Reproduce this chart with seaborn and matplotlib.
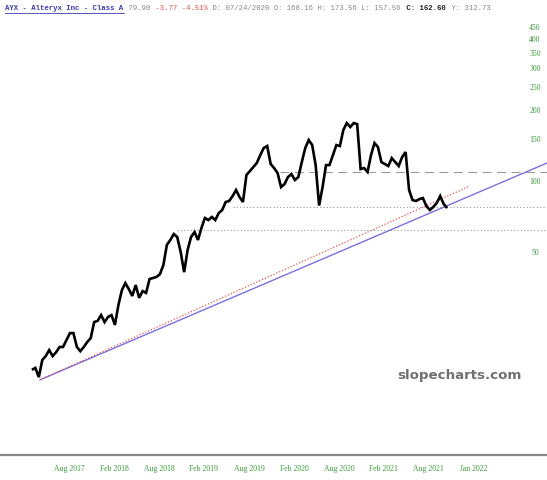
import pandas as pd
import matplotlib
matplotlib.use("Agg")
import matplotlib.pyplot as plt
from matplotlib.lines import Line2D
import seaborn as sns

# AYX closes, one every two weeks (first one = IPO week)
start_date = "2017-03-24"
closes = [
    16.0, 16.3, 14.9, 17.6, 18.3, 19.4, 18.3, 19.0, 20.0, 20.0,
    21.4, 22.9, 22.9, 20.0, 19.2, 20.0, 21.0, 21.8, 25.5, 25.8,
    27.3, 25.5, 26.8, 27.3, 24.8, 30.1, 34.8, 37.3, 35.2, 32.9,
    36.6, 32.3, 34.5, 33.9, 38.8, 39.2, 39.6, 40.7, 44.5, 54.1,
    56.8, 60.2, 58.5, 50.5, 41.5, 51.5, 58.5, 61.4, 56.8, 63.9,
    70.4, 69.0, 71.1, 69.0, 73.9, 76.1, 82.3, 83.1, 87.2, 92.5,
    86.4, 82.3, 107.1, 111.3, 115.8, 120.4, 130.1, 139.4, 142.1, 119.2,
    114.6, 109.2, 95.2, 98.0, 105.0, 108.1, 102.0, 105.0, 121.5, 139.4,
    150.7, 143.5, 118.0, 79.5, 95.2, 118.0, 118.0, 130.1, 143.5, 142.1,
    166.1, 177.8, 171.0, 177.8, 176.0, 113.5, 114.6, 110.3, 130.1, 146.3,
    140.7, 121.5, 119.2, 116.9, 126.3, 121.5, 116.9, 127.6, 134.0, 92.5,
    83.9, 83.1, 84.7, 85.5, 79.1, 76.1, 78.4, 81.5, 87.2, 80.7,
    77.6,
]

# horizontal levels: (price, start date, style)
levels = [
    (110.3, "2019-12-22", (0, (8, 5))),
    (78.4, "2019-06-14", (0, (1, 2))),
    (62.6, "2018-10-31", (0, (1, 2))),
]

# trend lines: two points each
blue_dates = ["2017-04-25", "2022-12-07"]
blue_prices = [14.5, 120.4]
red_dates = ["2017-04-25", "2022-01-29"]
red_prices = [14.5, 96.2]

right_ticks = [50, 100, 150, 200, 250, 300, 350, 400, 450]
tick_dates = pd.date_range("2017-08-21", periods=10, freq="182D")
tick_labels = ["Aug 2017", "Feb 2018", "Aug 2018", "Feb 2019", "Aug 2019",
               "Feb 2020", "Aug 2020", "Feb 2021", "Aug 2021", "Jan 2022"]
x_range = ("2016-11-15", "2022-12-07")
y_range = (6.97, 486)

green = "#3a9a3a"
df = pd.DataFrame({
    "date": pd.date_range(start_date, periods=len(closes), freq="14D"),
    "close": closes,
})

sns.set_style("white")
plt.rcParams["font.family"] = ["DejaVu Sans"]

fig = plt.figure(figsize=(5.47, 4.8), dpi=100)
ax = fig.add_axes([0, 25 / 480, 1, 435 / 480])
ax.set_yscale("log")

for price, d0, ls in levels:
    ax.plot([pd.Timestamp(d0), pd.Timestamp(x_range[1])], [price, price],
            color="#999999", lw=0.8, ls=ls, zorder=1)

ax.plot(pd.to_datetime(blue_dates), blue_prices, color="#7a70e0", lw=1.0, zorder=2)
ax.plot(pd.to_datetime(red_dates), red_prices, color="#e05555", lw=0.9,
        ls=(0, (1, 1.5)), zorder=2)

sns.lineplot(data=df, x="date", y="close", color="black", lw=1.9, ax=ax, zorder=3,
             solid_joinstyle="miter", solid_capstyle="butt")

ax.set_xlim(pd.Timestamp(x_range[0]), pd.Timestamp(x_range[1]))
ax.set_ylim(*y_range)
ax.yaxis.set_major_locator(matplotlib.ticker.NullLocator())
ax.yaxis.set_minor_locator(matplotlib.ticker.NullLocator())
ax.set_xlabel("")
ax.set_ylabel("")
ax.set_xticks(tick_dates, tick_labels)
ax.tick_params(axis="x", length=0, pad=7, labelsize=5.6, labelcolor=green)
for lab in ax.get_xticklabels():
    lab.set_family("Liberation Serif")

for v in right_ticks:
    ax.text(0.978, v, str(v), transform=ax.get_yaxis_transform(), ha="center",
            va="center", fontsize=5.6, color=green, family="Liberation Serif")

for side in ["left", "top", "right"]:
    ax.spines[side].set_visible(False)
ax.spines["bottom"].set_color("#888888")
ax.spines["bottom"].set_linewidth(1.6)

ax.text(0.84, 0.182, "slopecharts.com", transform=ax.transAxes, ha="center",
        va="center", fontsize=9.6, fontweight="bold", color="#707070",
        family="DejaVu Sans")

# header line, monospace pieces laid out char by char
fs = 5.3
cw = 0.6 * fs * 100 / 72
parts = [
    ("AYX - Alteryx Inc - Class A", "#3b3bb0", "bold"),
    (" 79.90", "#888888", "normal"),
    (" -3.77 -4.51%", "#e05050", "normal"),
    (" D: 07/24/2020 O: 168.16 H: 173.56 L: 157.56", "#888888", "normal"),
    (" C: 162.60", "#222222", "bold"),
    (" Y: 312.73", "#888888", "normal"),
]
pos = 0
for txt, col, wt in parts:
    fig.text((5 + pos * cw) / 547, 1 - 8 / 480, txt, ha="left", va="center",
             fontsize=fs, color=col, fontweight=wt, family="Liberation Mono")
    pos += len(txt)
fig.add_artist(Line2D([5 / 547, (5 + 27 * cw) / 547], [1 - 13 / 480, 1 - 13 / 480],
                      color="#3b3bb0", lw=0.6))

fig.savefig("out.png", dpi=100)
